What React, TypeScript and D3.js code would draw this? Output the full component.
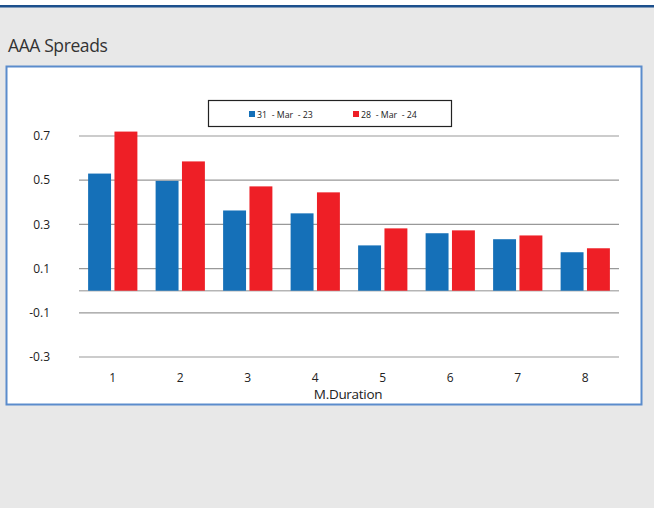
import React from "react";
import * as d3 from "d3";

const categories = ["1", "2", "3", "4", "5", "6", "7", "8"];
const seriesNames = ["31  - Mar  - 23", "28  - Mar  - 24"];
const seriesMar23 = [0.53, 0.497, 0.363, 0.35, 0.205, 0.26, 0.233, 0.174];
const seriesMar24 = [0.72, 0.585, 0.472, 0.445, 0.282, 0.273, 0.25, 0.192];
const yTicks = [0.7, 0.5, 0.3, 0.1, -0.1, -0.3];
const seriesColors = ["#1570b8", "#ee1f26"];

const W = 654;
const H = 508;
const plot = { left: 79, right: 619, top: 136, bottom: 357 };

export default function App() {
  const x = d3.scaleBand<string>().domain(categories).range([plot.left, plot.right]).paddingInner(0.27).paddingOuter(0.135);
  const inner = d3.scaleBand<number>().domain([0, 1]).range([0, x.bandwidth()]).paddingInner(0.13);
  const y = d3.scaleLinear().domain([-0.3, 0.7]).range([plot.bottom, plot.top]);
  const series = [seriesMar23, seriesMar24];
  const font = "'Open Sans', 'Noto Sans', sans-serif";

  return (
    <svg width={W} height={H} style={{ position: "absolute", left: 0, top: 0, display: "block" }} fontFamily={font}>
      <rect x={0} y={0} width={W} height={H} fill="#e8e8e8" />
      <rect x={0} y={0} width={W} height={5} fill="#ffffff" />
      <rect x={0} y={5} width={W} height={2.5} fill="#1b4f8c" />
      <text x={8} y={52} fontSize={17.5} fill="#333" letterSpacing={-0.4}>AAA Spreads</text>
      <rect x={6.5} y={66.5} width={635} height={338} fill="#ffffff" stroke="#5b8ccc" strokeWidth={2} />
      {yTicks.map((t) => (
        <g key={t}>
          <line x1={plot.left} x2={plot.right} y1={y(t)} y2={y(t)} stroke="#999" strokeWidth={1.2} />
          <text x={50} y={y(t)} dy="0.35em" textAnchor="end" fontSize={12} fill="#222">{t.toFixed(1)}</text>
        </g>
      ))}
      <line x1={plot.left} x2={plot.right} y1={y(0)} y2={y(0)} stroke="#b5b5b5" strokeWidth={1.5} />
      {categories.map((c, i) => (
        <g key={c}>
          {series.map((s, j) => (
            <rect key={j} x={(x(c) as number) + (inner(j) as number)} width={inner.bandwidth()} y={y(Math.max(0, s[i]))} height={Math.abs(y(s[i]) - y(0))} fill={seriesColors[j]} />
          ))}
          <text x={(x(c) as number) + x.bandwidth() / 2} y={382} textAnchor="middle" fontSize={12} fill="#222">{c}</text>
        </g>
      ))}
      <text x={348} y={399} textAnchor="middle" fontSize={13.5} fill="#222" letterSpacing={-0.3}>M.Duration</text>
      <rect x={208.5} y={100.5} width={243} height={26} fill="#ffffff" stroke="#222" strokeWidth={1.2} />
      {seriesNames.map((n, j) => (
        <g key={n}>
          <rect x={249 + j * 104} y={111} width={6} height={6} fill={seriesColors[j]} />
          <text x={257 + j * 104} y={117.5} fontSize={8.8} fill="#222" style={{ whiteSpace: "pre" }}>{n}</text>
        </g>
      ))}
    </svg>
  );
}
